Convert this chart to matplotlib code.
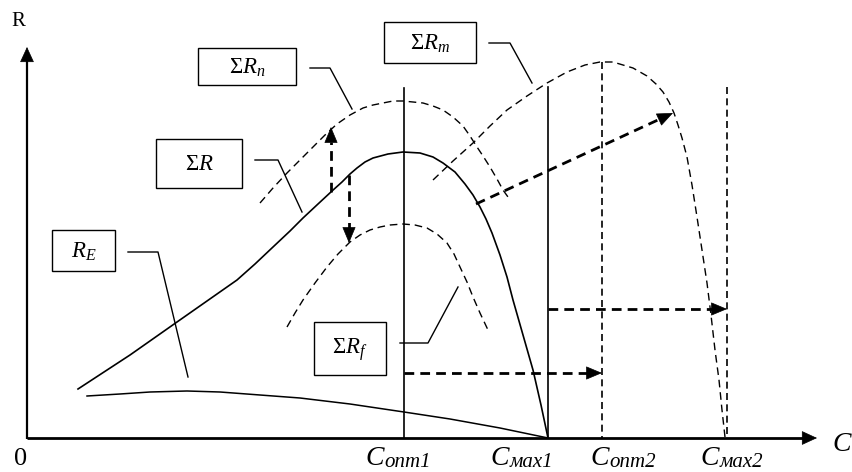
import matplotlib
matplotlib.use('Agg')
import matplotlib.pyplot as plt
import numpy as np
from matplotlib.patches import Rectangle

plt.rcParams['font.family'] = ['Liberation Serif', 'DejaVu Serif']
plt.rcParams['mathtext.fontset'] = 'custom'
plt.rcParams['mathtext.rm'] = 'Liberation Serif'
plt.rcParams['mathtext.it'] = 'Liberation Serif:italic'
plt.rcParams['mathtext.bf'] = 'Liberation Serif:bold'

# ---- schematic curves (C along x, R in downward drawing units on y) ----
re_x = [87, 120, 150, 187, 220, 260, 300, 350, 404, 450, 500, 548]
re_y = [396, 394, 392, 391, 392, 395, 398, 404, 412, 419, 428, 438]

sr_x = [78, 130, 177, 207, 237, 255, 273, 290, 303, 318, 332, 342, 350, 357,
        365, 373, 388, 403, 420, 433, 443, 455, 465, 473, 480, 486, 492, 500,
        507, 513, 523, 533, 541, 548]
sr_y = [389, 355, 322, 301, 280, 264, 247, 231, 218, 204, 191, 182, 174, 168,
        162, 158, 154, 152, 153, 157, 163, 172, 184, 195, 207, 219, 233, 255,
        277, 300, 335, 370, 405, 438]

srn_x = [260, 273, 287, 300, 313, 325, 337, 350, 363, 373, 383, 393, 403, 413,
         423, 433, 443, 453, 463, 470, 477, 483, 490, 497, 503, 508]
srn_y = [203, 188, 173, 160, 147, 135, 124, 115, 108, 105, 103, 101, 101, 102,
         103, 106, 110, 117, 126, 136, 147, 156, 167, 179, 190, 197]

srf_x = [287, 295, 303, 315, 327, 338, 350, 360, 370, 380, 390, 403, 415, 427,
         437, 447, 454, 460, 467, 473, 480, 488]
srf_y = [327, 313, 300, 283, 267, 254, 242, 235, 230, 227, 225, 224, 225, 228,
         234, 243, 254, 267, 282, 297, 313, 330]

srm_x = [433, 453, 473, 490, 507, 527, 547, 567, 585, 600, 613, 633, 647, 656,
         663, 669, 674, 678, 682, 687, 692, 697, 702, 707, 711, 715, 719, 722, 725]
srm_y = [180, 161, 143, 126, 110, 96, 83, 72, 65, 62, 62, 68, 76, 84,
         92, 102, 113, 125, 138, 157, 185, 217, 250, 283, 315, 350, 380, 410, 437]

# vertical markers: x, top
solid_vlines_x = [404, 548]
solid_vlines_top = [88, 87]
dashed_vlines_x = [602, 727]
dashed_vlines_top = [62, 87]

# dashed arrows: start -> tip
arrows_start = [(331, 192), (349, 175), (476, 204), (404, 373), (548, 309)]
arrows_tip = [(331, 127), (349, 243), (673, 113), (602, 373), (727, 309)]

# labels in boxes: text, box (x0, y0, x1, y1), leader polyline
box_texts = [r'$\Sigma R_n$', r'$\Sigma R_m$', r'$\Sigma R$', r'$R_E$', r'$\Sigma R_f$']
box_rects = [(198, 48, 296, 85), (384, 22, 476, 63), (156, 139, 242, 188),
             (52, 230, 115, 271), (314, 322, 386, 375)]
leaders = [[(310, 68), (330, 68), (352, 109)],
           [(489, 43), (510, 43), (532, 83)],
           [(255, 160), (278, 160), (302, 212)],
           [(128, 252), (158, 252), (188, 377)],
           [(400, 343), (428, 343), (458, 287)]]

# x-axis labels
c_subs = ['опт1', 'мах1', 'опт2', 'мах2']
c_left = [365, 490, 590, 700]

x0_axis, y0_axis = 27, 438
x_tip, y_tip = 817, 47

fig = plt.figure(figsize=(8.52, 4.72), dpi=100)
ax = fig.add_axes([0, 0, 1, 1])
ax.set_xlim(0, 852)
ax.set_ylim(472, 0)
ax.axis('off')


def head(tip, start, length_pt, halfw_pt, lw=0.5):
    tip = np.array(tip, float)
    start = np.array(start, float)
    d = tip - start
    d /= np.hypot(*d)
    L = length_pt * 100 / 72
    base = tip - d * L
    ax.annotate('', xy=tuple(tip), xytext=tuple(base),
                arrowprops=dict(arrowstyle=f'-|>,head_length={length_pt},head_width={halfw_pt}',
                                mutation_scale=1, lw=lw, color='black',
                                shrinkA=0, shrinkB=0))
    return base


# axes
ax.plot([x0_axis, x_tip - 8], [y0_axis, y0_axis], color='black', lw=2, solid_capstyle='butt')
ax.plot([x0_axis, x0_axis], [y0_axis + 1, y_tip + 8], color='black', lw=1.6, solid_capstyle='butt')
head((x_tip, y0_axis), (x0_axis, y0_axis), 10, 4.6)
head((x0_axis, y_tip), (x0_axis, y0_axis), 10, 4.6)

# solid curves
ax.plot(re_x, re_y, color='black', lw=1.1, solid_joinstyle='round')
ax.plot(sr_x, sr_y, color='black', lw=1.2, solid_joinstyle='round')

# dashed curves
for xs, ys in [(srn_x, srn_y), (srf_x, srf_y), (srm_x, srm_y)]:
    ax.plot(xs, ys, color='black', lw=1.0, dashes=(5.5, 3.5))

# vertical lines
for x, t in zip(solid_vlines_x, solid_vlines_top):
    ax.plot([x, x], [t, y0_axis], color='black', lw=1.2)
for x, t in zip(dashed_vlines_x, dashed_vlines_top):
    ax.plot([x, x], [t, y0_axis], color='black', lw=1.2, dashes=(4.2, 2.6))

# dashed arrows
for s, t in zip(arrows_start, arrows_tip):
    base = head(t, s, 10.5, 4.4)
    ax.plot([s[0], base[0]], [s[1], base[1]], color='black', lw=2, dashes=(3.5, 2.2))

# boxes & leaders
for txt, (bx0, by0, bx1, by1), ld in zip(box_texts, box_rects, leaders):
    ax.add_patch(Rectangle((bx0, by0), bx1 - bx0, by1 - by0, fill=False,
                           edgecolor='black', lw=1.0))
    ax.text((bx0 + bx1) / 2, (by0 + by1) / 2 + 1, txt, ha='center', va='center',
            fontsize=16.5)
    lx, ly = zip(*ld)
    ax.plot(lx, ly, color='black', lw=1.0)

# axis texts
ax.text(18, 21, 'R', ha='center', va='center', fontsize=15)
ax.text(21, 465, '0', ha='center', va='baseline', fontsize=19)
ax.text(832, 451, 'C', ha='left', va='baseline', fontsize=20, style='italic')

fig.canvas.draw()
rend = fig.canvas.get_renderer()
for sub, xl in zip(c_subs, c_left):
    t = ax.text(xl, 465, 'C', ha='left', va='baseline', fontsize=20, style='italic')
    bb = t.get_window_extent(rend)
    x_end = ax.transData.inverted().transform((bb.x1, bb.y0))[0]
    ax.text(x_end + 1, 467, sub, ha='left', va='baseline', fontsize=15, style='italic')

fig.savefig('out.png', dpi=100)
